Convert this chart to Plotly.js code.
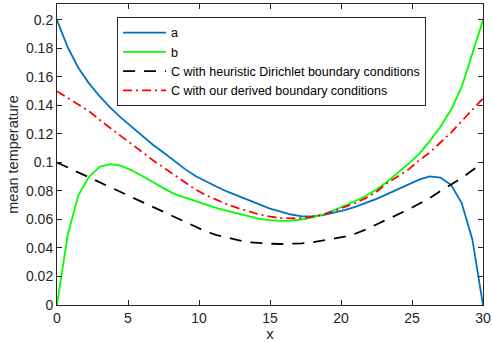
<!DOCTYPE html>
<html>
<head>
<meta charset="utf-8">
<script src="https://cdn.plot.ly/plotly-3.0.1.min.js"></script>
<style>html,body{margin:0;padding:0;background:#fff;}#chart{width:492px;height:342px;}</style>
</head>
<body>
<div id="chart"></div>
<script>
var xVals = [0, 0.75, 1.5, 2.25, 3, 3.75, 4.5, 5.25, 6, 6.75, 7.5, 8.25, 9, 9.75, 10.5, 11.25, 12, 12.75, 13.5, 14.25, 15, 15.75, 16.5, 17.25, 18, 18.75, 19.5, 20.25, 21, 21.75, 22.5, 23.25, 24, 24.75, 25.5, 26.25, 27, 27.75, 28.5, 29.25, 30];

var seriesA = [0.200, 0.181, 0.1665, 0.1555, 0.1465, 0.1385, 0.1315, 0.125, 0.119, 0.1125, 0.107, 0.101, 0.0955, 0.0905, 0.0866, 0.083, 0.0795, 0.0765, 0.0732, 0.0702, 0.0676, 0.0655, 0.0635, 0.0622, 0.0622, 0.063, 0.0645, 0.0665, 0.0688, 0.0715, 0.0745, 0.0778, 0.0812, 0.0848, 0.088, 0.0903, 0.0893, 0.0843, 0.0715, 0.046, 0.000];

var seriesB = [0.000, 0.049, 0.077, 0.090, 0.097, 0.0988, 0.0978, 0.0945, 0.0905, 0.086, 0.082, 0.078, 0.0755, 0.0728, 0.0705, 0.068, 0.066, 0.064, 0.0622, 0.0605, 0.0595, 0.059, 0.0592, 0.060, 0.0615, 0.0635, 0.0665, 0.0695, 0.073, 0.0765, 0.081, 0.0865, 0.0925, 0.099, 0.106, 0.115, 0.125, 0.137, 0.153, 0.176, 0.200];

var seriesHeuristic = [0.100, 0.0965, 0.093, 0.0895, 0.086, 0.0825, 0.079, 0.0755, 0.072, 0.0685, 0.065, 0.0615, 0.058, 0.0545, 0.0515, 0.049, 0.047, 0.0455, 0.044, 0.0434, 0.043, 0.0428, 0.0428, 0.0432, 0.044, 0.045, 0.0465, 0.048, 0.050, 0.053, 0.0565, 0.0598, 0.063, 0.067, 0.071, 0.075, 0.080, 0.0845, 0.089, 0.0945, 0.100];

var seriesDerived = [0.150, 0.1455, 0.141, 0.136, 0.130, 0.124, 0.1185, 0.113, 0.107, 0.1016, 0.0965, 0.0915, 0.0865, 0.081, 0.077, 0.0735, 0.0705, 0.068, 0.0655, 0.0635, 0.062, 0.061, 0.0608, 0.061, 0.062, 0.0635, 0.066, 0.0685, 0.0715, 0.075, 0.0795, 0.0855, 0.090, 0.095, 0.1015, 0.107, 0.114, 0.121, 0.129, 0.137, 0.145];

var seriesNames = ["a", "b", "C with heuristic Dirichlet boundary conditions", "C with our derived boundary conditions"];
var xTicks = [0, 5, 10, 15, 20, 25, 30];
var xTickText = ["0", "5", "10", "15", "20", "25", "30"];
var yTicks = [0, 0.02, 0.04, 0.06, 0.08, 0.1, 0.12, 0.14, 0.16, 0.18, 0.2];
var yTickText = ["0", "0.02", "0.04", "0.06", "0.08", "0.1", "0.12", "0.14", "0.16", "0.18", "0.2"];

var font = "Liberation Sans, Arial, Helvetica, sans-serif";
var axisColor = "#262626";

var traces = [
  {x: xVals, y: seriesA, name: seriesNames[0], mode: "lines", line: {color: "#0072BD", width: 1.8}},
  {x: xVals, y: seriesB, name: seriesNames[1], mode: "lines", line: {color: "#00FF00", width: 1.8}},
  {x: xVals, y: seriesHeuristic, name: seriesNames[2], mode: "lines", line: {color: "#000000", width: 1.8, dash: "12px,9px"}},
  {x: xVals, y: seriesDerived, name: seriesNames[3], mode: "lines", line: {color: "#FF0000", width: 1.8, dash: "9px,4px,2px,4px"}}
];

var axisCommon = {
  showgrid: false, zeroline: false, showline: true, linecolor: axisColor, linewidth: 1,
  mirror: "ticks", ticks: "inside", ticklen: 5, tickwidth: 1, tickcolor: axisColor,
  tickfont: {family: font, size: 14, color: axisColor}
};

var layout = {
  width: 492, height: 342,
  margin: {l: 57, r: 9, t: 4, b: 37, pad: 0},
  paper_bgcolor: "#fff", plot_bgcolor: "#fff",
  showlegend: true,
  legend: {
    x: 0.141, y: 0.957, xanchor: "left", yanchor: "top",
    bgcolor: "#fff", bordercolor: "#262626", borderwidth: 1,
    font: {family: font, size: 12.5, color: "#000"},
    tracegroupgap: 0, itemwidth: 43
  },
  xaxis: Object.assign({}, axisCommon, {
    range: [0, 30], tickvals: xTicks, ticktext: xTickText,
    title: {text: "x", font: {family: font, size: 15, color: axisColor}, standoff: 2}
  }),
  yaxis: Object.assign({}, axisCommon, {
    range: [0, 0.2112], tickvals: yTicks, ticktext: yTickText,
    title: {text: "mean temperature", font: {family: font, size: 14.5, color: axisColor}, standoff: 3}
  })
};

Plotly.newPlot("chart", traces, layout, {displayModeBar: false, staticPlot: true});
</script>
</body>
</html>
